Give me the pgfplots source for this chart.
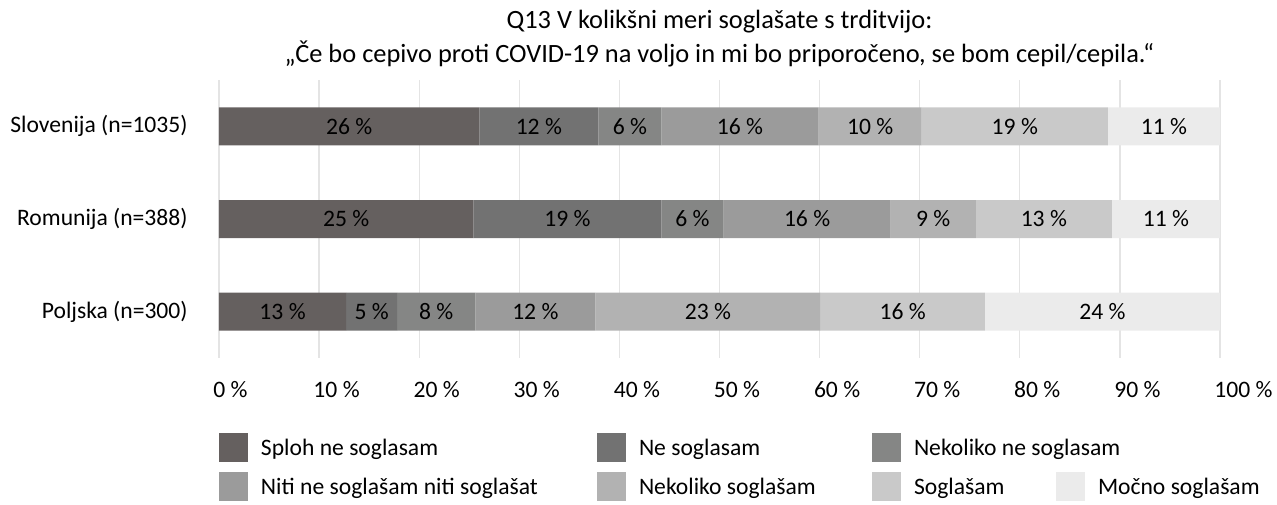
\documentclass[border=0pt]{standalone}
\usepackage{fontspec}
\setmainfont{Carlito}
\usepackage{pgfplots}
\usepackage{pgfplotstable}
\pgfplotsset{compat=1.18}

\definecolor{c1}{RGB}{101,96,95}
\definecolor{c2}{RGB}{114,114,114}
\definecolor{c3}{RGB}{133,134,133}
\definecolor{c4}{RGB}{155,155,155}
\definecolor{c5}{RGB}{178,178,178}
\definecolor{c6}{RGB}{201,201,201}
\definecolor{c7}{RGB}{235,235,235}
\definecolor{gridc}{RGB}{228,228,228}

\pgfplotstableread{
y v1 l1 v2 l2 v3 l3 v4 l4 v5 l5 v6 l6 v7 l7
3 26.0 26 11.9 12 6.3 6 15.7 16 10.3 10 18.6 19 11.2 11
2 25.4 25 18.8 19 6.2 6 16.7 16 8.5 9 13.6 13 10.8 11
1 12.7 13 5.1 5 7.8 8 12.0 12 22.5 23 16.4 16 23.5 24
}\data

\newcommand\fs{\fontsize{11.8pt}{16pt}\selectfont}
\newcommand\ft{\fontsize{13.2pt}{17pt}\selectfont}
\pgfplotsset{lsq/.style={legend image code/.code={\fill[##1,draw=none] (0pt,-7.25pt) rectangle (14.5pt,7.25pt);}}}

\begin{document}
\begin{tikzpicture}
\path (-109.5pt,-73pt) rectangle (529pt,179pt);
\begin{axis}[
  at={(0pt,0pt)}, anchor=south west,
  scale only axis, width=500.5pt, height=139pt,
  xbar stacked, bar width=19pt,
  xmin=0, xmax=100, ymin=0.5, ymax=3.5,
  xtick={0,10,...,100},
  xticklabels={0 \%,10 \%,20 \%,30 \%,40 \%,50 \%,60 \%,70 \%,80 \%,90 \%,100 \%},
  ytick={1,2,3},
  yticklabels={Poljska (n=300),Romunija (n=388),Slovenija (n=1035)},
  xmajorgrids, grid style={gridc, line width=0.6pt},
  axis line style={draw=none},
  major tick length=0pt,
  tick label style={font=\fs, text=black},
  xticklabel style={anchor=base west, inner sep=0pt, xshift=-3pt, yshift=-19.75pt},
  yticklabel style={anchor=east, inner sep=0pt, xshift=-15.5pt},
  title={Q13 V kolikšni meri soglašate s trditvijo:\\„Če bo cepivo proti COVID-19 na voljo in mi bo priporočeno, se bom cepil/cepila.“},
  title style={at={(0.5,1)}, anchor=south, inner sep=0pt, yshift=0.5pt, align=center, font=\ft},
  point meta=explicit symbolic,
  nodes near coords={\pgfplotspointmeta~\%},
  nodes near coords style={font=\fs, text=black, anchor=center, inner sep=0pt},
  legend columns=4,
  legend cell align=left,
  legend style={at={(0,0)}, anchor=north west, yshift=-37.5pt, draw=none, fill=none,
    inner sep=0pt, outer sep=0pt, column sep=0pt, row sep=5pt, font=\fs,
    nodes={inner sep=0pt, text height=7.6pt, text depth=0pt}},
]
\addplot[fill=c1, draw=none, lsq] table[x=v1, y=y, meta=l1] {\data};
\addlegendentry{\makebox[174.5pt][l]{\hspace{6.5pt}Sploh ne soglasam}}
\addplot[fill=c2, draw=none, lsq] table[x=v2, y=y, meta=l2] {\data};
\addlegendentry{\makebox[123pt][l]{\hspace{6.5pt}Ne soglasam}}
\addplot[fill=c3, draw=none, lsq] table[x=v3, y=y, meta=l3] {\data};
\addlegendentry{\makebox[77.5pt][l]{\hspace{6.5pt}Nekoliko ne soglasam}}
\addlegendimage{empty legend}
\addlegendentry{}
\addplot[fill=c4, draw=none, lsq] table[x=v4, y=y, meta=l4] {\data};
\addlegendentry{\makebox[174.5pt][l]{\hspace{6.5pt}Niti ne soglašam niti soglašat}}
\addplot[fill=c5, draw=none, lsq] table[x=v5, y=y, meta=l5] {\data};
\addlegendentry{\makebox[123pt][l]{\hspace{6.5pt}Nekoliko soglašam}}
\addplot[fill=c6, draw=none, lsq] table[x=v6, y=y, meta=l6] {\data};
\addlegendentry{\makebox[77.5pt][l]{\hspace{6.5pt}Soglašam}}
\addplot[fill=c7, draw=none, lsq] table[x=v7, y=y, meta=l7] {\data};
\addlegendentry{\hspace{6.5pt}Močno soglašam}
\end{axis}
\end{tikzpicture}
\end{document}
